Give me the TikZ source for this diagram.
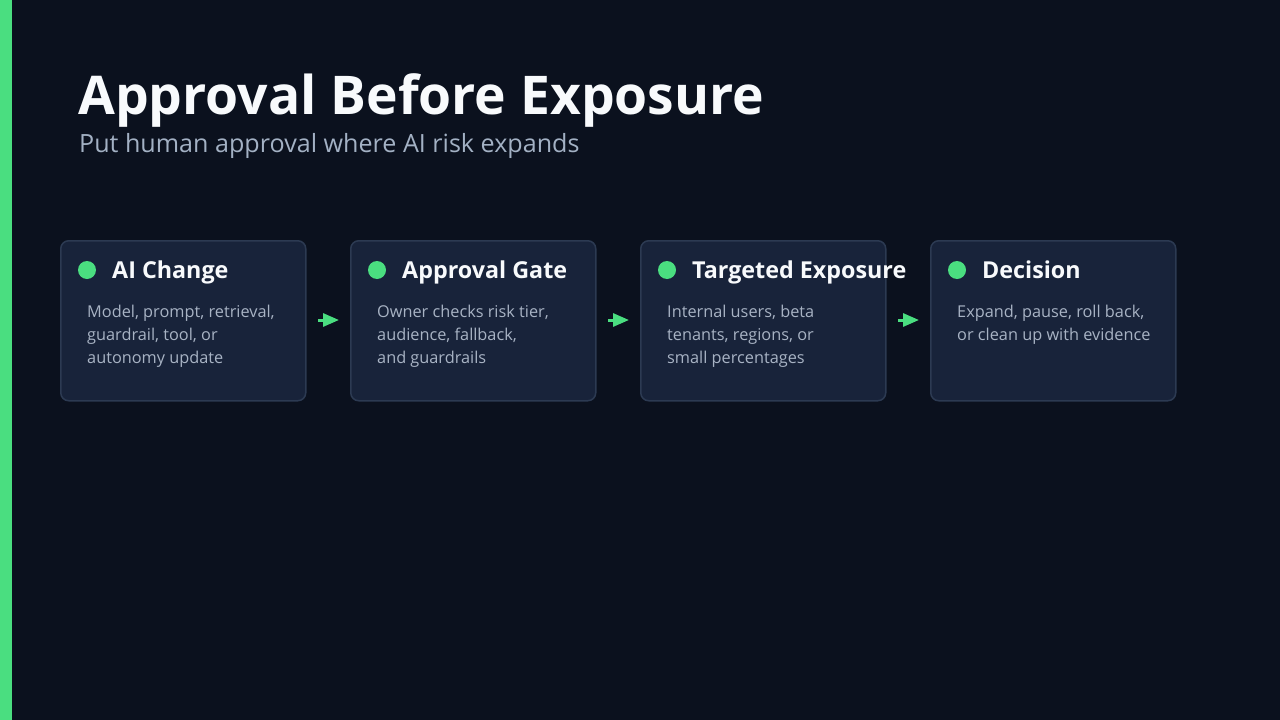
\documentclass[tikz,border=0pt]{standalone}
\usepackage{fontspec}
\setmainfont{Open Sans}
\usetikzlibrary{arrows.meta}
\definecolor{bg}{HTML}{0B111E}
\definecolor{boxfill}{HTML}{18233A}
\definecolor{boxline}{HTML}{2C3A52}
\definecolor{accent}{HTML}{4ADE80}
\definecolor{titlec}{HTML}{F8FAFC}
\definecolor{subc}{HTML}{A3B1C4}
\definecolor{bodyc}{HTML}{A8B3C4}
\tikzset{
  card/.style={draw=boxline, line width=1.5pt, fill=boxfill, rounded corners=8pt, minimum width=245pt, minimum height=160pt, anchor=north west, inner sep=0pt},
  dotc/.style={circle, fill=accent, inner sep=0pt, minimum size=18pt},
  head/.style={anchor=base west, inner sep=0pt, text=titlec, font=\fontsize{23.3}{27}\selectfont\bfseries},
  body/.style={anchor=base west, inner sep=0pt, text=bodyc, font=\fontsize{16.3}{23}\selectfont},
  flow/.style={draw=accent, line width=3pt, -{Triangle[length=16pt,width=13pt]}},
}
\begin{document}
\begin{tikzpicture}[x=1pt,y=-1pt]
\fill[bg] (0,0) rectangle (1280,720);
\useasboundingbox (0,0) rectangle (1280,720);
\fill[accent] (0,0) rectangle (12,720);
\node[anchor=base west, inner sep=0pt, text=titlec, font=\fontsize{53.4}{60}\selectfont\bfseries] (title) at (78,114) {Approval Before Exposure};
\node[anchor=base west, inner sep=0pt, text=subc, font=\fontsize{25.1}{30}\selectfont] (sub) at (79,152) {Put human approval where AI risk expands};
% cards
\foreach \i/\x/\h in {1/60/{AI Change},2/350/{Approval Gate},3/640/{Targeted Exposure},4/930/{Decision}}{
  \node[card] (c\i) at (\x,240) {};
  \node[dotc] (d\i) at (\x+27,270) {};
  \node[head] (h\i) at (\x+52,278) {\h};
}
\node[body] (b1a) at (87,317) {Model, prompt, retrieval,};
\node[body] (b1b) at (87,340) {guardrail, tool, or};
\node[body] (b1c) at (87,363) {autonomy update};
\node[body] (b2a) at (377,317) {Owner checks risk tier,};
\node[body] (b2b) at (377,340) {audience, fallback,};
\node[body] (b2c) at (377,363) {and guardrails};
\node[body] (b3a) at (667,317) {Internal users, beta};
\node[body] (b3b) at (667,340) {tenants, regions, or};
\node[body] (b3c) at (667,363) {small percentages};
\node[body] (b4a) at (957,317) {Expand, pause, roll back,};
\node[body] (b4b) at (957,340) {or clean up with evidence};
\coordinate (a1s) at (318,320); \coordinate (a1e) at (339,320);
\coordinate (a2s) at (608,320); \coordinate (a2e) at (629,320);
\coordinate (a3s) at (898,320); \coordinate (a3e) at (919,320);
\draw[flow] (a1s) -- (a1e);
\draw[flow] (a2s) -- (a2e);
\draw[flow] (a3s) -- (a3e);
\end{tikzpicture}
\end{document}
